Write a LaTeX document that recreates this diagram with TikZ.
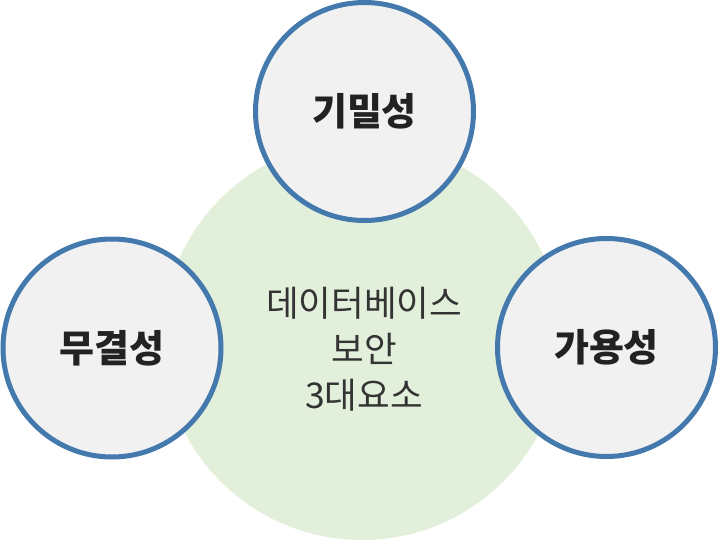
\documentclass[tikz,border=0pt]{standalone}
\usepackage{fontspec}
\newfontfamily\krfont{Noto Sans CJK KR}
\definecolor{ringblue}{HTML}{4479AD}
\definecolor{ringfill}{HTML}{F1F1F1}
\definecolor{hubgreen}{HTML}{E2EFDA}
\definecolor{inkdark}{HTML}{222222}
\definecolor{inkgray}{HTML}{333333}
\begin{document}
\begin{tikzpicture}[x=1pt,y=-1pt,
  hub/.style={circle,fill=hubgreen,draw=none,inner sep=0pt,minimum size=400pt},
  pillar/.style={circle,fill=ringfill,draw=ringblue,line width=5pt,inner sep=0pt,minimum size=218pt,
    text=inkdark,font={\krfont\bfseries\fontsize{38}{42}\selectfont}},
  hublabel/.style={align=center,text=inkgray,inner sep=0pt,font={\krfont\fontsize{35.5}{46}\selectfont}}]
\useasboundingbox (0,0) rectangle (718,539);
\node[hub] (core) at (362,340) {};
\node[pillar] (conf) at (364.5,111.5) {기밀성};
\node[pillar] (integ) at (112,348) {무결성};
\node[pillar] (avail) at (606.5,347.5) {가용성};
\node[hublabel] (corelabel) at (364,349) {데이터베이스\\보안\\3대요소};
\end{tikzpicture}
\end{document}
